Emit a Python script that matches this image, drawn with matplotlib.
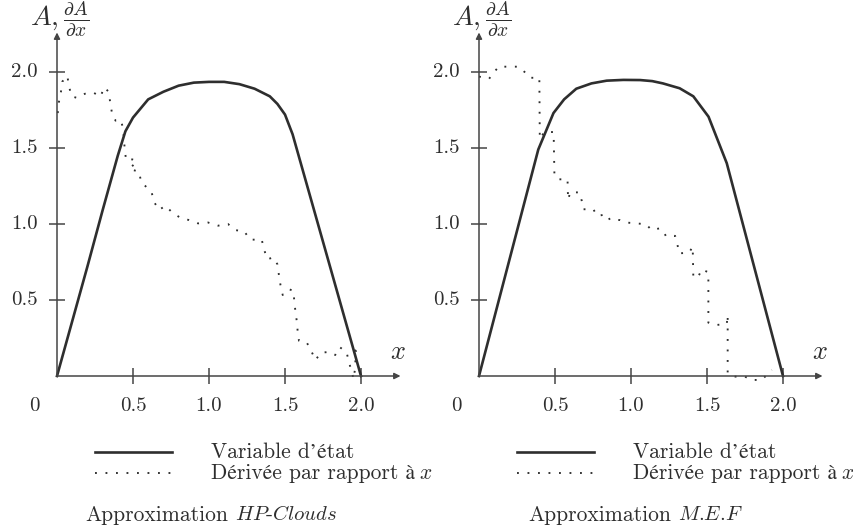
import matplotlib
matplotlib.use("Agg")
import matplotlib.pyplot as plt

plt.rcParams['font.family'] = ['cmr10', 'STIXGeneral', 'DejaVu Serif']
plt.rcParams['mathtext.fontset'] = 'cm'
plt.rcParams['axes.unicode_minus'] = False

# ---------------- data ----------------
tick_values = [0.5, 1.0, 1.5, 2.0]
tick_labels = ['0.5', '1.0', '1.5', '2.0']

# HP-Clouds panel
hp_state_x = [0, 0.10, 0.20, 0.30, 0.40, 0.45, 0.50, 0.55, 0.60, 0.70, 0.80, 0.90,
              1.00, 1.10, 1.20, 1.30, 1.40, 1.45, 1.50, 1.55, 2.00]
hp_state_y = [0, 0.36, 0.72, 1.09, 1.45, 1.61, 1.70, 1.76, 1.82, 1.87, 1.91, 1.93,
              1.935, 1.935, 1.92, 1.89, 1.84, 1.79, 1.72, 1.59, 0.0]
hp_deriv_x = [0.005, 0.013, 0.026, 0.035, 0.068, 0.08, 0.097, 0.13, 0.184, 0.24, 0.287,
              0.31, 0.34, 0.35, 0.36, 0.385, 0.42, 0.437, 0.44, 0.447, 0.454, 0.496,
              0.524, 0.476, 0.54, 0.553, 0.586, 0.623, 0.64, 0.671, 0.713, 0.759, 0.813,
              0.868, 0.928, 0.993, 1.06, 1.125, 1.171, 1.232, 1.27, 1.306, 1.347, 1.362,
              1.384, 1.423, 1.45, 1.46, 1.47, 1.485, 1.528, 1.555, 1.561, 1.568, 1.577,
              1.583, 1.592, 1.643, 1.675, 1.70, 1.737, 1.785, 1.83, 1.86, 1.906, 1.92,
              1.94, 1.95, 1.96, 1.967, 2.0]
hp_deriv_y = [1.73, 1.805, 1.87, 1.937, 1.974, 1.90, 1.84, 1.83, 1.857, 1.864, 1.838,
              1.90, 1.87, 1.80, 1.74, 1.68, 1.684, 1.62, 1.55, 1.487, 1.42, 1.425,
              1.41, 1.362, 1.344, 1.278, 1.245, 1.206, 1.143, 1.092, 1.12, 1.075, 1.04,
              1.026, 1.004, 1.01, 0.989, 1.0, 0.96, 0.952, 0.897, 0.897, 0.897, 0.833,
              0.768, 0.78, 0.735, 0.664, 0.60, 0.533, 0.57, 0.561, 0.495, 0.43, 0.364,
              0.298, 0.232, 0.221, 0.16, 0.105, 0.153, 0.158, 0.138, 0.19, 0.155, 0.09,
              0.03, -0.02, 0.04, 0.17, 0.19]

# M.E.F panel
mef_state_x = [0, 0.39, 0.49, 0.56, 0.64, 0.74, 0.84, 0.95, 1.06, 1.14, 1.21, 1.32,
               1.41, 1.51, 1.63, 2.00]
mef_state_y = [0, 1.49, 1.73, 1.82, 1.89, 1.925, 1.943, 1.948, 1.947, 1.94, 1.925,
               1.893, 1.84, 1.706, 1.40, 0.0]
mef_deriv_x = [0.0, 0.066, 0.10, 0.13, 0.26, 0.30, 0.335, 0.397, 0.40, 0.43, 0.491,
               0.496, 0.518, 0.583, 0.583, 0.588, 0.599, 0.66, 0.676, 0.686, 0.752,
               0.778, 0.84, 0.862, 0.928, 0.976, 1.037, 1.099, 1.136, 1.186, 1.208,
               1.23, 1.29, 1.305, 1.316, 1.382, 1.406, 1.41, 1.443, 1.465, 1.509,
               1.509, 1.564, 1.63, 1.636, 1.636, 1.678, 1.75, 1.79, 1.86, 1.926]
mef_deriv_y = [1.97, 1.955, 2.0, 2.035, 2.035, 2.0, 1.962, 1.962, 1.56, 1.605, 1.605,
               1.33, 1.294, 1.294, 1.228, 1.16, 1.208, 1.208, 1.153, 1.097, 1.097,
               1.053, 1.064, 1.026, 1.026, 1.009, 1.004, 0.998, 0.96, 0.971, 0.96,
               0.92, 0.922, 0.868, 0.807, 0.811, 0.851, 0.649, 0.653, 0.702, 0.682,
               0.351, 0.336, 0.342, 0.40, 0.018, -0.004, -0.004, -0.026, -0.026, 0.04]

legend_labels = ["Variable d\u2019état", "Dérivée par rapport à"]
caption_prefix = "Approximation"
caption_names = [r"$\mathit{HP}$-$\mathit{Clouds}$",
                 r"$\mathit{M}$.$\mathit{E}$.$\mathit{F}$"]

# ---------------- drawing ----------------
W, H = 854, 529
SCALE = 152.0      # pixels per data unit
ORIGIN_Y = 376.0   # pixel row of the x-axis
INK = '#2e2e2e'
AXC = '#454545'
DOT = (0, (1, 4.6))
FS_TICK = 15
FS_TEXT = 15.5

fig = plt.figure(figsize=(W / 100, H / 100), dpi=100)


def make_axes(px0, px1, origin_x):
    ax = fig.add_axes([px0 / W, 0, (px1 - px0) / W, 1])
    ax.set_xlim((px0 - origin_x) / SCALE, (px1 - origin_x) / SCALE)
    ax.set_ylim((ORIGIN_Y - H) / SCALE, ORIGIN_Y / SCALE)
    ax.axis('off')
    return ax


def draw_panel(ax, sx, sy, dx, dy, name, cap_x):
    arrow = dict(arrowstyle='-|>', lw=1.1, color=AXC, mutation_scale=9,
                 shrinkA=0, shrinkB=0)
    ax.annotate('', xy=(2.26, 0), xytext=(0, 0), arrowprops=arrow)
    ax.annotate('', xy=(0, 2.26), xytext=(0, 0), arrowprops=arrow)
    for t, lab in zip(tick_values, tick_labels):
        ax.plot([t, t], [-0.05, 0.05], color=AXC, lw=1.1, solid_capstyle='butt')
        ax.plot([-0.05, 0.05], [t, t], color=AXC, lw=1.1, solid_capstyle='butt')
        ax.text(t, -0.2, lab, ha='center', va='center', fontsize=FS_TICK, color=INK)
        ax.text(-0.125, t, lab, ha='right', va='center', fontsize=FS_TICK, color=INK)
    ax.text(-0.15, -0.2, '0', ha='center', va='center', fontsize=FS_TICK, color=INK)
    ax.text(2.245, 0.158, r'$x$', ha='center', va='center', fontsize=19, color=INK)
    ax.text(-0.18, 2.35, r'$A,\frac{\partial A}{\partial x}$', ha='left',
            va='center', fontsize=20, color=INK)

    # curves
    ax.plot(dx, dy, color=INK, lw=1.35, linestyle=DOT)
    ax.plot(sx, sy, color=INK, lw=1.9, solid_joinstyle='round')

    # legend
    ax.plot([0.25, 0.755], [-0.5, -0.5], color=INK, lw=1.9)
    ax.plot([0.25, 0.755], [-0.638, -0.638], color=INK, lw=1.35, linestyle=DOT)
    ax.text(1.01, -0.5, legend_labels[0], ha='left', va='center',
            fontsize=FS_TEXT, color=INK)
    t2 = ax.text(1.01, -0.638, legend_labels[1], ha='left', va='center',
                 fontsize=FS_TEXT, color=INK)
    ax.annotate(r'$x$', xy=(1, 0.5), xycoords=t2, xytext=(3, 0),
                textcoords='offset points', ha='left', va='center',
                fontsize=FS_TEXT, color=INK)

    # caption
    c1 = ax.text(cap_x, -0.914, caption_prefix, ha='left', va='center',
                 fontsize=FS_TEXT, color=INK)
    ax.annotate(name, xy=(1, 0.5), xycoords=c1, xytext=(5, 0),
                textcoords='offset points', ha='left', va='center',
                fontsize=FS_TEXT - 0.5, color=INK)


ax_l = make_axes(0, 420, 57)
ax_r = make_axes(420, 854, 479)

draw_panel(ax_l, hp_state_x, hp_state_y, hp_deriv_x, hp_deriv_y, caption_names[0], 0.184)
draw_panel(ax_r, mef_state_x, mef_state_y, mef_deriv_x, mef_deriv_y, caption_names[1], 0.324)

fig.savefig('out.png', dpi=100, facecolor='white')
